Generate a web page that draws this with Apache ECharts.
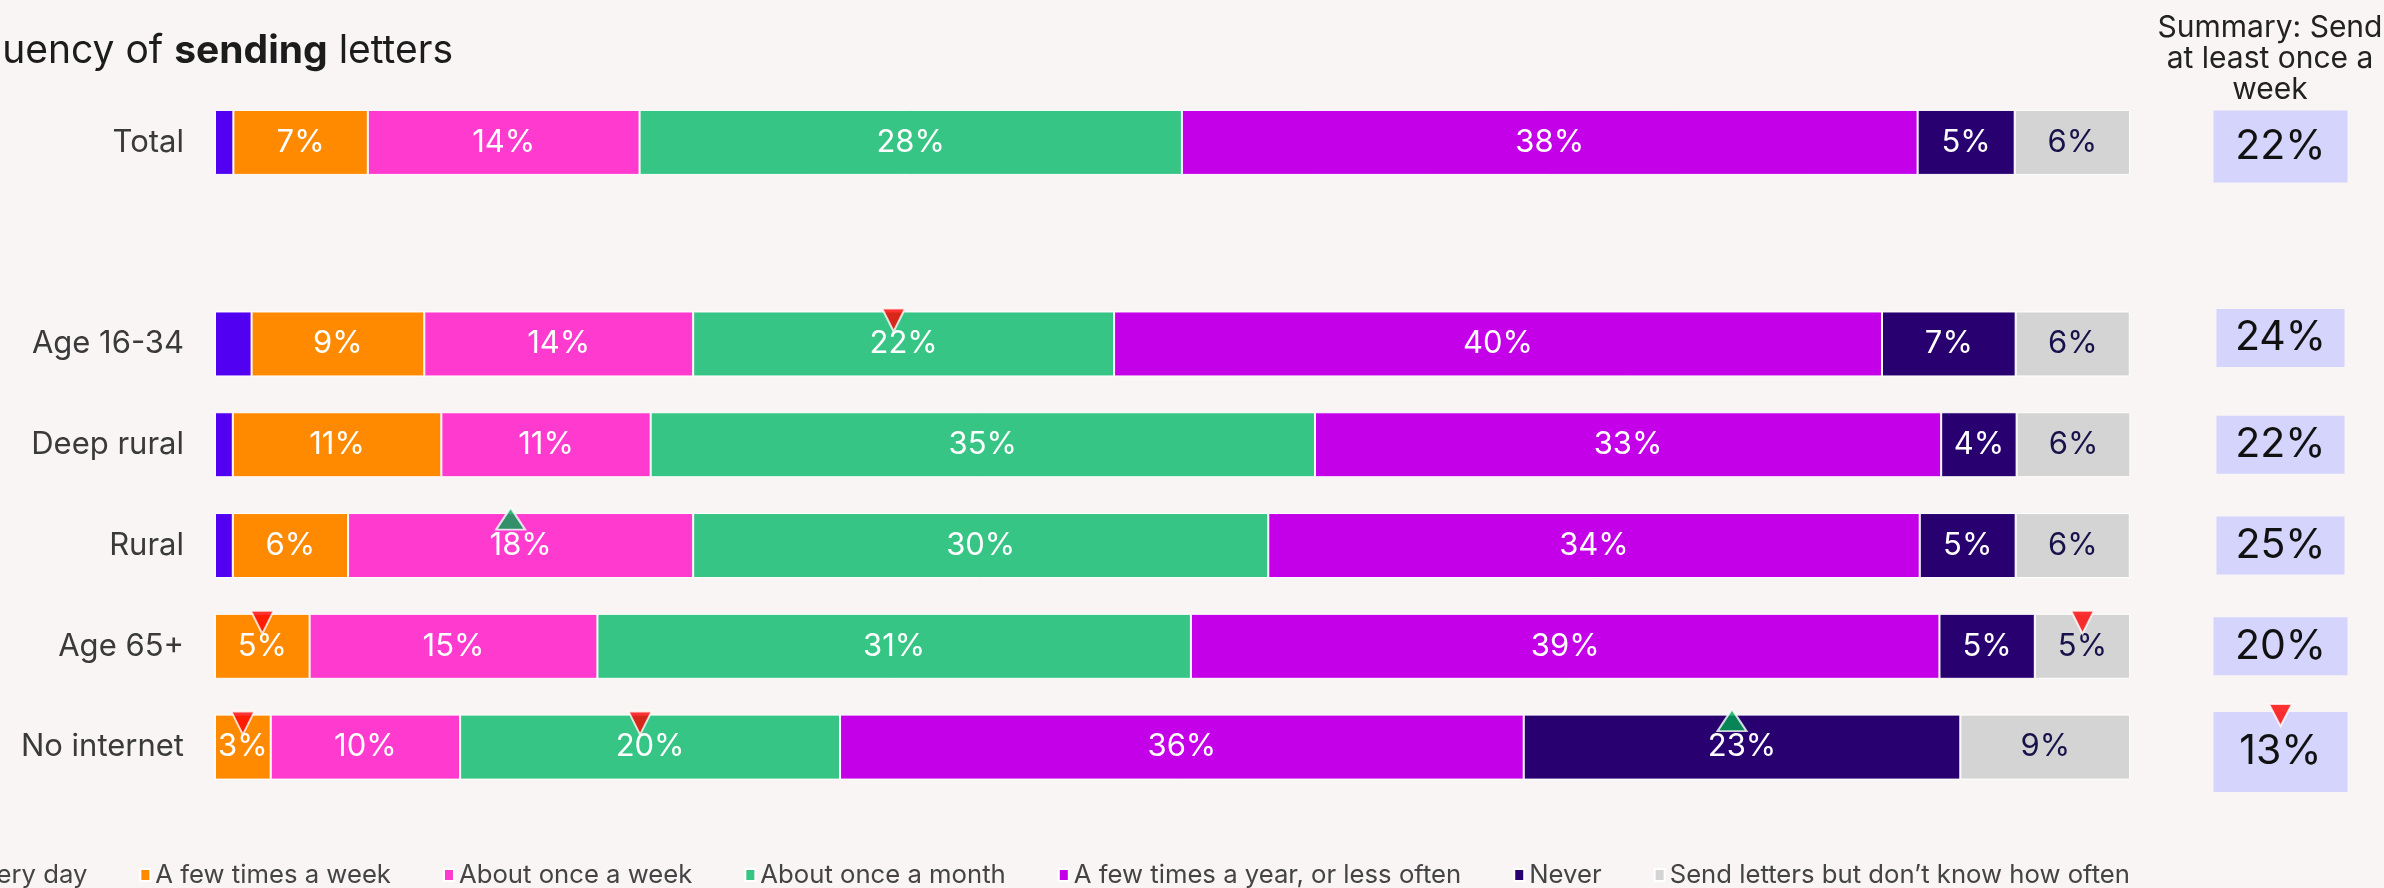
<!DOCTYPE html>
<html>
<head>
<meta charset="utf-8">
<script src="https://cdn.jsdelivr.net/npm/echarts@6/dist/echarts.min.js"></script>
<style>
html,body{margin:0;padding:0;background:#f8f5f4;}
#chart{width:2384px;height:888px;}
</style>
</head>
<body>
<div id="chart"></div>
<script>
// ---------- DATA ----------
const categories = ['Total', '', 'Age 16-34', 'Deep rural', 'Rural', 'Age 65+', 'No internet'];
const seriesNames = [
  'Every day',
  'A few times a week',
  'About once a week',
  'About once a month',
  'A few times a year, or less often',
  'Never',
  'Send letters but don\u2019t know how often'
];
const everyDay   = [0.96, null, 1.91, 0.93, 0.93, 0, 0];
const fewWeek    = [7.02, null, 9.02, 10.89, 6.02, 4.94, 2.91];
const onceWeek   = [14.19, null, 14.04, 10.93, 18.02, 15.03, 9.89];
const onceMonth  = [28.32, null, 21.98, 34.69, 30.03, 30.99, 19.84];
const fewYear    = [38.42, null, 40.1, 32.7, 34.02, 39.09, 35.7];
const never      = [5.07, null, 6.98, 3.94, 5.01, 4.98, 22.8];
const dontKnow   = [6.02, null, 5.96, 5.94, 5.96, 4.98, 8.87];
const summary    = [22, null, 24, 22, 25, 20, 13];
const summaryTitle = 'Summary: Send\nat least once a\nweek';
const chartTitle = ['Frequency of ', 'sending', ' letters'];
// significance markers: row, segment index, direction
const markers = [
  ['Age 16-34', 3, 'down'],
  ['Rural', 2, 'up'],
  ['Age 65+', 1, 'down'],
  ['Age 65+', 6, 'down'],
  ['No internet', 1, 'down'],
  ['No internet', 3, 'down'],
  ['No internet', 5, 'up']
];
const summaryMarkers = [['No internet', 'down']];

// ---------- STYLE ----------
const segs = [everyDay, fewWeek, onceWeek, onceMonth, fewYear, never, dontKnow];
const colors = ['#5200f2', '#ff8a00', '#ff3acf', '#36c584', '#c400e8', '#28006f', '#d4d4d4'];
const FONT = 'Inter, "Noto Sans", sans-serif';
const RED = '#ff0000', GREEN = '#00a651';

const series = segs.map((arr, i) => ({
  type: 'bar',
  name: seriesNames[i],
  stack: 'all',
  barWidth: 65,
  xAxisIndex: 0, yAxisIndex: 0,
  silent: true,
  data: arr.map(v => v == null ? '-' : v),
  itemStyle: { color: colors[i], borderColor: '#ffffff', borderWidth: 1 },
  label: {
    show: i > 0,
    position: 'inside',
    formatter: p => Math.round(p.value) + '%',
    color: i === 6 ? '#17124a' : '#ffffff',
    fontSize: 31,
    fontFamily: FONT
  }
}));

// marker triangles on bars
const markerData = markers.map(([row, seg, dir]) => {
  const r = categories.indexOf(row);
  let start = 0;
  for (let k = 0; k < seg; k++) start += (segs[k][r] || 0);
  const v = segs[seg][r];
  const digits = String(Math.round(v)).length;
  const down = dir === 'down';
  return {
    value: [start + v / 2, r],
    symbolRotate: down ? 180 : 0,
    symbolSize: down ? [23, 23] : [29, 22],
    symbolOffset: [-(digits - 1) * 10, down ? -24 : -27],
    itemStyle: { color: down ? RED : GREEN, borderColor: '#ffffff', borderWidth: 2 }
  };
});
series.push({
  type: 'scatter', xAxisIndex: 0, yAxisIndex: 0, symbol: 'triangle', z: 10, silent: true,
  data: markerData
});

// summary boxes
const boxData = [];
summary.forEach((v, i) => {
  if (v == null) return;
  const cat = categories[i];
  let size = [128, 58], off = [0, 0];
  if (cat === 'Total') { size = [134, 72]; off = [0, 4]; }
  if (cat === 'No internet') { size = [134, 80]; off = [0, 5]; }
  if (cat === 'Age 16-34') { off = [0, -6]; }
  if (cat === 'Age 65+') { size = [134, 58]; }
  boxData.push({ value: [0.5, i, v], symbolSize: size, symbolOffset: off });
});
series.push({
  type: 'scatter', xAxisIndex: 1, yAxisIndex: 1, symbol: 'rect', silent: true, clip: false,
  itemStyle: { color: '#d4d4fc', opacity: 1 },
  label: {
    show: true, position: 'inside',
    formatter: p => p.value[2] + '%',
    color: '#111111', fontSize: 41, fontFamily: FONT
  },
  data: boxData
});
series.push({
  type: 'scatter', xAxisIndex: 1, yAxisIndex: 1, symbol: 'triangle', z: 10, silent: true, clip: false,
  data: summaryMarkers.map(([row, dir]) => ({
    value: [0.5, categories.indexOf(row)],
    symbolRotate: dir === 'down' ? 180 : 0,
    symbolSize: [23, 22],
    symbolOffset: [0, -32],
    itemStyle: { color: dir === 'down' ? RED : GREEN, borderColor: '#ffffff', borderWidth: 2 }
  }))
});

const option = {
  backgroundColor: '#f8f5f4',
  animation: false,
  grid: [
    { left: 215, right: 254, top: 92, height: 705.5 },
    { left: 2213, width: 135, top: 92, height: 705.5 }
  ],
  xAxis: [
    { type: 'value', gridIndex: 0, min: 0, max: 100, show: false },
    { type: 'value', gridIndex: 1, min: 0, max: 1, show: false }
  ],
  yAxis: [
    {
      type: 'category', gridIndex: 0, data: categories, inverse: true,
      axisLine: { show: false }, axisTick: { show: false }, splitLine: { show: false },
      axisLabel: { fontSize: 31, color: '#3a3a3a', margin: 31, fontFamily: FONT }
    },
    { type: 'category', gridIndex: 1, data: categories, inverse: true, show: false }
  ],
  legend: {
    data: seriesNames,
    right: 254, top: 862, width: 2500, padding: 0,
    icon: 'rect', itemWidth: 10, itemHeight: 12, itemGap: 52,
    selectedMode: false,
    textStyle: { fontSize: 25.7, color: '#444444', fontFamily: FONT }
  },
  graphic: [
    {
      type: 'text', x: 453, y: 32, silent: true,
      style: {
        text: '{a|' + chartTitle[0] + '}{b|' + chartTitle[1] + '}{a|' + chartTitle[2] + '}',
        align: 'right', verticalAlign: 'top',
        rich: {
          a: { fontSize: 39, fontFamily: FONT, fill: '#1c1c1c' },
          b: { fontSize: 39, fontFamily: FONT, fontWeight: 'bold', fill: '#1c1c1c' }
        }
      }
    },
    {
      type: 'text', x: 2270, y: 12, silent: true,
      style: {
        text: summaryTitle, align: 'center', verticalAlign: 'top',
        fontSize: 30, lineHeight: 31, fontFamily: FONT, fill: '#222222'
      }
    }
  ],
  series: series
};

const chart = echarts.init(document.getElementById('chart'), null, { renderer: 'canvas' });
chart.setOption(option);
</script>
</body>
</html>
